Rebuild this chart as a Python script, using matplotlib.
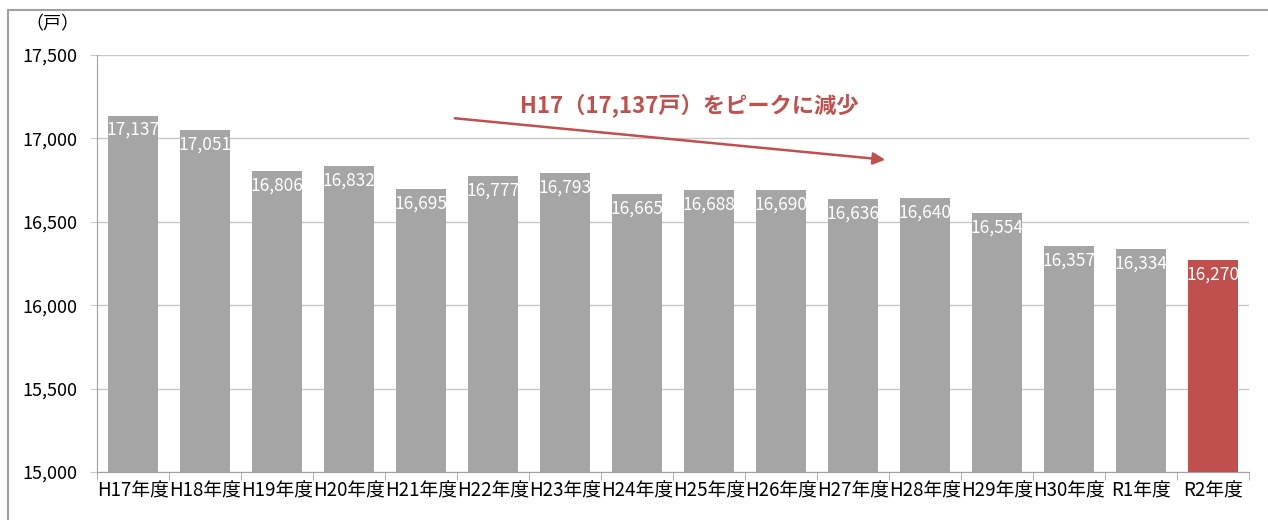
import matplotlib
matplotlib.use("Agg")
import matplotlib.pyplot as plt
from matplotlib.patches import Rectangle

plt.rcParams['font.family'] = ['Noto Sans CJK JP', 'DejaVu Sans']

categories = ["H17年度", "H18年度", "H19年度", "H20年度", "H21年度", "H22年度", "H23年度", "H24年度",
              "H25年度", "H26年度", "H27年度", "H28年度", "H29年度", "H30年度", "R1年度", "R2年度"]
households = [17137, 17051, 16806, 16832, 16695, 16777, 16793, 16665,
              16688, 16690, 16636, 16640, 16554, 16357, 16334, 16270]
yticks = [15000, 15500, 16000, 16500, 17000, 17500]
annotation_text = "H17（17,137戸）をピークに減少"
unit_label = "（戸）"

gray = "#a5a5a5"
red = "#c0504d"
colors = [gray] * (len(categories) - 1) + [red]

fig = plt.figure(figsize=(12.68, 5.2), dpi=100)
ax = fig.add_axes([97/1268, 1 - 472/520, (1249 - 97)/1268, (472 - 55)/520])

x = list(range(len(categories)))
bars = ax.bar(x, households, width=0.69, color=colors, zorder=3)
ax.set_xlim(-0.5, len(categories) - 0.5)
ax.set_ylim(15000, 17500)
ax.set_yticks(yticks)
ax.set_yticklabels([f"{v:,}" for v in yticks], fontsize=13)
ax.yaxis.grid(True, color="#c8c8c8", linewidth=1, zorder=0)
ax.tick_params(axis='y', length=5, color="#c8c8c8", pad=9)

ax.set_xticks(x)
ax.set_xticklabels(categories, fontsize=13.5)
ax.tick_params(axis='x', length=0, pad=6)
ax.set_xticks([i - 0.5 for i in range(len(categories) + 1)], minor=True)
ax.tick_params(axis='x', which='minor', length=6, color="#a0a0a0")

for side in ['top', 'right']:
    ax.spines[side].set_visible(False)
ax.spines['left'].set_color("#a0a0a0")
ax.spines['bottom'].set_color("#a0a0a0")

for xi, v in zip(x, households):
    ax.annotate(f"{v:,}", (xi, v), xytext=(0, -4), textcoords='offset points',
                ha='center', va='top', color='white', fontsize=12.5, zorder=4)

ax.annotate("", xy=(888/1268, 1 - 160/520), xytext=(452/1268, 1 - 118/520),
            xycoords='figure fraction', textcoords='figure fraction',
            arrowprops=dict(arrowstyle='-|>', color=red, lw=1.8, mutation_scale=18))
fig.text(689/1268, 1 - 106/520, annotation_text, color=red, fontsize=16, fontweight='bold',
         ha='center', va='center')
fig.text(52/1268, 1 - 24/520, unit_label, fontsize=13, ha='center', va='center')

fig.patches.append(Rectangle((8/1268, -0.01), 1.1, 1 - 10/520 + 0.01, transform=fig.transFigure,
                             fill=False, edgecolor="#a0a0a0", linewidth=1.5))

fig.savefig("out.png", dpi=100)
